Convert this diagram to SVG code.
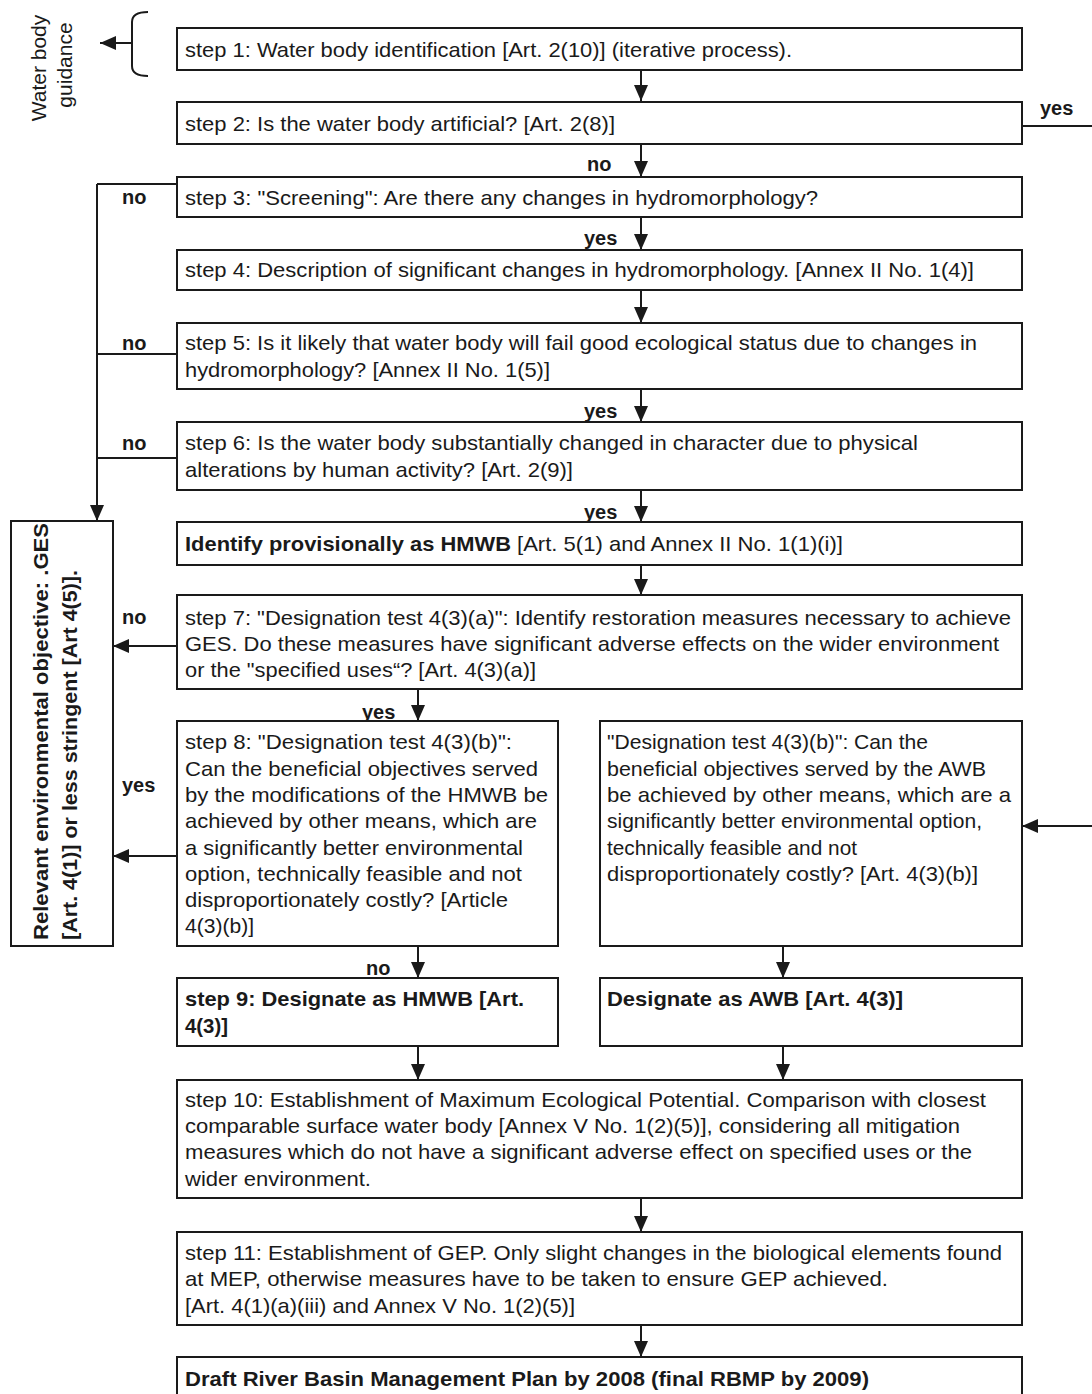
<svg xmlns="http://www.w3.org/2000/svg" width="1092" height="1394" viewBox="0 0 1092 1394">
  <defs>
    <marker id="arrow" viewBox="0 0 16 14" refX="16" refY="7" markerWidth="16" markerHeight="14" markerUnits="userSpaceOnUse" orient="auto">
      <path d="M0,0 L16,7 L0,14 z" fill="#1a1a1a"/>
    </marker>
    <style>
      .box { fill: #ffffff; stroke: #1a1a1a; stroke-width: 2; }
      .ln { fill: none; stroke: #1a1a1a; stroke-width: 2; }
      .arr { fill: none; stroke: #1a1a1a; stroke-width: 2; marker-end: url(#arrow); }
      .t { font-family: "Liberation Sans", Arial, sans-serif; font-size: 21px; fill: #1a1a1a; }
      .b { font-family: "Liberation Sans", Arial, sans-serif; font-size: 21px; font-weight: bold; fill: #1a1a1a; }
      .lbl { font-family: "Liberation Sans", Arial, sans-serif; font-size: 20px; font-weight: bold; fill: #1a1a1a; }
    </style>
  </defs>
  <rect width="1092" height="1394" fill="#ffffff"/>

  <!-- side note -->
  <g id="guidance">
    <text class="t" font-size="19" text-anchor="middle" transform="translate(46,68) rotate(-90)">Water body</text>
    <text class="t" font-size="19" text-anchor="middle" transform="translate(72,65) rotate(-90)">guidance</text>
  </g>

  <!-- connectors -->
  <g id="connectors">
    <path class="ln" d="M148,12 Q132,12 132,22 L132,66 Q132,76 148,76"/>
    <path class="arr" d="M132,43 L100,43"/>
    <path class="arr" d="M641,70 L641,101"/>
    <path class="ln" d="M1022,126 L1092,126"/>
    <path class="arr" d="M641,144 L641,177"/>
    <path class="arr" d="M641,217 L641,250"/>
    <path class="arr" d="M641,290 L641,323"/>
    <path class="arr" d="M641,389 L641,422"/>
    <path class="arr" d="M641,490 L641,522"/>
    <path class="arr" d="M641,565 L641,595"/>
    <path class="ln" d="M177,184 L97,184"/>
    <path class="ln" d="M177,354 L97,354"/>
    <path class="ln" d="M177,458 L97,458"/>
    <path class="arr" d="M97,184 L97,521"/>
    <path class="arr" d="M177,646 L113,646"/>
    <path class="arr" d="M177,856 L113,856"/>
    <path class="arr" d="M418,689 L418,721"/>
    <path class="arr" d="M1092,826 L1022,826"/>
    <path class="arr" d="M418,946 L418,978"/>
    <path class="arr" d="M783,946 L783,978"/>
    <path class="arr" d="M418,1046 L418,1080"/>
    <path class="arr" d="M783,1046 L783,1080"/>
    <path class="arr" d="M641,1198 L641,1232"/>
    <path class="arr" d="M641,1325 L641,1357"/>
  </g>

  <!-- branch labels -->
  <g id="labels">
    <text class="lbl" x="1040" y="115">yes</text>
    <text class="lbl" x="587" y="171">no</text>
    <text class="lbl" x="584" y="245">yes</text>
    <text class="lbl" x="584" y="418">yes</text>
    <text class="lbl" x="584" y="519">yes</text>
    <text class="lbl" x="122" y="204">no</text>
    <text class="lbl" x="122" y="350">no</text>
    <text class="lbl" x="122" y="450">no</text>
    <text class="lbl" x="122" y="624">no</text>
    <text class="lbl" x="122" y="792">yes</text>
    <text class="lbl" x="362" y="719">yes</text>
    <text class="lbl" x="366" y="975">no</text>
  </g>

  <g id="step1">
    <rect class="box" x="177" y="28" width="845" height="42"/>
    <text class="t" x="185" y="57" textLength="607" lengthAdjust="spacingAndGlyphs">step 1: Water body identification [Art. 2(10)] (iterative process).</text>
  </g>
  <g id="step2">
    <rect class="box" x="177" y="102" width="845" height="42"/>
    <text class="t" x="185" y="131" textLength="430" lengthAdjust="spacingAndGlyphs">step 2: Is the water body artificial? [Art. 2(8)]</text>
  </g>
  <g id="step3">
    <rect class="box" x="177" y="177" width="845" height="40"/>
    <text class="t" x="185" y="205" textLength="633" lengthAdjust="spacingAndGlyphs">step 3: "Screening": Are there any changes in hydromorphology?</text>
  </g>
  <g id="step4">
    <rect class="box" x="177" y="250" width="845" height="40"/>
    <text class="t" x="185" y="277" textLength="789" lengthAdjust="spacingAndGlyphs">step 4: Description of significant changes in hydromorphology. [Annex II No. 1(4)]</text>
  </g>
  <g id="step5">
    <rect class="box" x="177" y="323" width="845" height="66"/>
    <text class="t" x="185" y="350" textLength="792" lengthAdjust="spacingAndGlyphs">step 5: Is it likely that water body will fail good ecological status due to changes in</text>
    <text class="t" x="185" y="377" textLength="365" lengthAdjust="spacingAndGlyphs">hydromorphology? [Annex II No. 1(5)]</text>
  </g>
  <g id="step6">
    <rect class="box" x="177" y="422" width="845" height="68"/>
    <text class="t" x="185" y="450" textLength="733" lengthAdjust="spacingAndGlyphs">step 6: Is the water body substantially changed in character due to physical</text>
    <text class="t" x="185" y="477" textLength="388" lengthAdjust="spacingAndGlyphs">alterations by human activity? [Art. 2(9)]</text>
  </g>
  <g id="provisional">
    <rect class="box" x="177" y="522" width="845" height="43"/>
    <text class="b" x="185" y="551" textLength="326" lengthAdjust="spacingAndGlyphs">Identify provisionally as HMWB</text>
    <text class="t" x="517" y="551" textLength="326" lengthAdjust="spacingAndGlyphs">[Art. 5(1) and Annex II No. 1(1)(i)]</text>
  </g>
  <g id="objective">
    <rect class="box" x="11" y="521" width="102" height="425"/>
    <text class="b" font-size="19" transform="translate(48,940) rotate(-90)" textLength="417" lengthAdjust="spacingAndGlyphs">Relevant environmental objective: .GES</text>
    <text class="b" font-size="19" transform="translate(77,940) rotate(-90)" textLength="370" lengthAdjust="spacingAndGlyphs">[Art. 4(1)] or less stringent [Art 4(5)].</text>
  </g>
  <g id="step7">
    <rect class="box" x="177" y="595" width="845" height="94"/>
    <text class="t" x="185" y="625" textLength="826" lengthAdjust="spacingAndGlyphs">step 7: "Designation test 4(3)(a)": Identify restoration measures necessary to achieve</text>
    <text class="t" x="185" y="651" textLength="814" lengthAdjust="spacingAndGlyphs">GES. Do these measures have significant adverse effects on the wider environment</text>
    <text class="t" x="185" y="677" textLength="351" lengthAdjust="spacingAndGlyphs">or the "specified uses“? [Art. 4(3)(a)]</text>
  </g>
  <g id="step8">
    <rect class="box" x="177" y="721" width="381" height="225"/>
    <text class="t" x="185" y="749" textLength="327" lengthAdjust="spacingAndGlyphs">step 8: "Designation test 4(3)(b)":</text>
    <text class="t" x="185" y="776" textLength="353" lengthAdjust="spacingAndGlyphs">Can the beneficial objectives served</text>
    <text class="t" x="185" y="802" textLength="363" lengthAdjust="spacingAndGlyphs">by the modifications of the HMWB be</text>
    <text class="t" x="185" y="828" textLength="352" lengthAdjust="spacingAndGlyphs">achieved by other means, which are</text>
    <text class="t" x="185" y="855" textLength="338" lengthAdjust="spacingAndGlyphs">a significantly better environmental</text>
    <text class="t" x="185" y="881" textLength="337" lengthAdjust="spacingAndGlyphs">option, technically feasible and not</text>
    <text class="t" x="185" y="907" textLength="323" lengthAdjust="spacingAndGlyphs">disproportionately costly? [Article</text>
    <text class="t" x="185" y="933" textLength="69" lengthAdjust="spacingAndGlyphs">4(3)(b)]</text>
  </g>
  <g id="awb-test">
    <rect class="box" x="600" y="721" width="422" height="225"/>
    <text class="t" x="607" y="749" textLength="321" lengthAdjust="spacingAndGlyphs">"Designation test 4(3)(b)": Can the</text>
    <text class="t" x="607" y="776" textLength="379" lengthAdjust="spacingAndGlyphs">beneficial objectives served by the AWB</text>
    <text class="t" x="607" y="802" textLength="404" lengthAdjust="spacingAndGlyphs">be achieved by other means, which are a</text>
    <text class="t" x="607" y="828" textLength="375" lengthAdjust="spacingAndGlyphs">significantly better environmental option,</text>
    <text class="t" x="607" y="855" textLength="250" lengthAdjust="spacingAndGlyphs">technically feasible and not</text>
    <text class="t" x="607" y="881" textLength="371" lengthAdjust="spacingAndGlyphs">disproportionately costly? [Art. 4(3)(b)]</text>
  </g>
  <g id="step9">
    <rect class="box" x="177" y="978" width="381" height="68"/>
    <text class="b" x="185" y="1006" textLength="339" lengthAdjust="spacingAndGlyphs">step 9: Designate as HMWB [Art.</text>
    <text class="b" x="185" y="1033" textLength="43" lengthAdjust="spacingAndGlyphs">4(3)]</text>
  </g>
  <g id="awb-designate">
    <rect class="box" x="600" y="978" width="422" height="68"/>
    <text class="b" x="607" y="1006" textLength="296" lengthAdjust="spacingAndGlyphs">Designate as AWB [Art. 4(3)]</text>
  </g>
  <g id="step10">
    <rect class="box" x="177" y="1080" width="845" height="118"/>
    <text class="t" x="185" y="1107" textLength="801" lengthAdjust="spacingAndGlyphs">step 10: Establishment of Maximum Ecological Potential. Comparison with closest</text>
    <text class="t" x="185" y="1133" textLength="775" lengthAdjust="spacingAndGlyphs">comparable surface water body [Annex V No. 1(2)(5)], considering all mitigation</text>
    <text class="t" x="185" y="1159" textLength="787" lengthAdjust="spacingAndGlyphs">measures which do not have a significant adverse effect on specified uses or the</text>
    <text class="t" x="185" y="1186" textLength="186" lengthAdjust="spacingAndGlyphs">wider environment.</text>
  </g>
  <g id="step11">
    <rect class="box" x="177" y="1232" width="845" height="93"/>
    <text class="t" x="185" y="1260" textLength="817" lengthAdjust="spacingAndGlyphs">step 11: Establishment of GEP. Only slight changes in the biological elements found</text>
    <text class="t" x="185" y="1286" textLength="703" lengthAdjust="spacingAndGlyphs">at MEP, otherwise measures have to be taken to ensure GEP achieved.</text>
    <text class="t" x="185" y="1313" textLength="390" lengthAdjust="spacingAndGlyphs">[Art. 4(1)(a)(iii) and Annex V No. 1(2)(5)]</text>
  </g>
  <g id="rbmp">
    <rect class="box" x="177" y="1357" width="845" height="60"/>
    <text class="b" x="185" y="1386" textLength="684" lengthAdjust="spacingAndGlyphs">Draft River Basin Management Plan by 2008 (final RBMP by 2009)</text>
  </g>
</svg>
